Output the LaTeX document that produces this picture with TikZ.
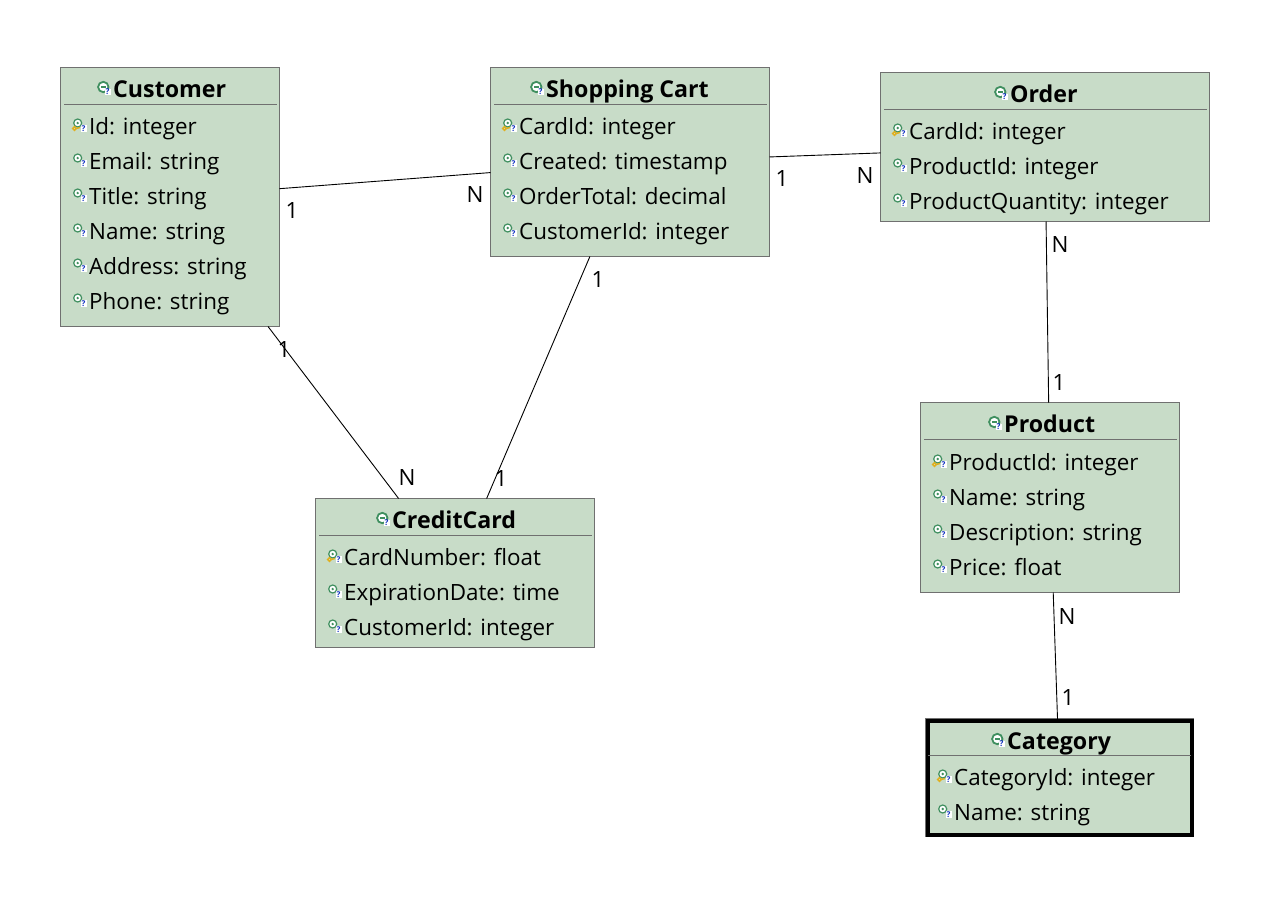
\documentclass[tikz,border=0pt]{standalone}
\usepackage{fontspec}
\setmainfont{Open Sans}
\definecolor{boxfill}{HTML}{C8DCC8}
\definecolor{boxedge}{HTML}{707070}
\definecolor{icong}{HTML}{3F8F5F}
\definecolor{iconb}{HTML}{1030C0}
\definecolor{iconk}{HTML}{E0B020}
\newcommand{\bodyfont}{\fontsize{22.4}{24}\selectfont}
\newcommand{\titlefont}{\fontsize{23.2}{24}\selectfont\bfseries}
\tikzset{
  x=1pt,y=-1pt,
  entity/.style={draw=boxedge,line width=1pt,fill=boxfill,rectangle,inner sep=0pt,outer sep=0pt},
  selected/.style={draw=black,line width=4pt,fill=boxfill,rectangle,inner sep=0pt,outer sep=0pt},
  sepline/.style={draw=boxedge,line width=0.8pt},
  link/.style={draw=black,line width=0.9pt},
  fieldtext/.style={anchor=base west,inner sep=0pt,font=\bodyfont,text=black},
  titletext/.style={anchor=base west,inner sep=0pt,font=\titlefont,text=black},
  cardinal/.style={inner sep=0pt,font=\bodyfont,text=black},
  qmark/.style={inner sep=0pt,font=\fontsize{8}{8}\selectfont\bfseries,text=iconb},
}
% icon helpers: #1,#2 = left edge and baseline of the text that follows
\newcommand{\qbox}[2]{%
  \fill[white] (#1-3,#2-3.2) rectangle (#1+3,#2+3.2);
  \node[qmark] at (#1,#2) {?};}
\newcommand{\titleicon}[2]{%
  \draw[icong,line width=1.8pt,fill=white] (#1-9.7,#2-10) circle (5.2);
  \fill[icong] (#1-12,#2-11) rectangle (#1-7,#2-9);
  \qbox{#1-5.5}{#2-5}}
\newcommand{\fieldicon}[2]{%
  \draw[icong,line width=1.2pt,fill=white] (#1-11.3,#2-11) circle (4);
  \fill[icong] (#1-11.3,#2-11) circle (1.3);
  \qbox{#1-5.5}{#2-5.5}}
\newcommand{\keyicon}[2]{%
  \fieldicon{#1}{#2}
  \draw[iconk,line width=1.4pt] (#1-14.5,#2-5.5) circle (1.8);
  \draw[iconk,line width=1.4pt] (#1-12.8,#2-5.5) -- (#1-9,#2-6.5);}
% \fields{prefix}{text left}{first baseline}{list}; first row has the key
\newcommand{\fields}[4]{%
  \foreach \t [count=\i from 0] in {#4} {
    \pgfmathsetmacro{\yy}{#3+35*\i}
    \ifnum\i=0 \keyicon{#2}{\yy}\else \fieldicon{#2}{\yy}\fi
    \node[fieldtext] (#1-f\i) at (#2,\yy) {\t};
  }}
\begin{document}
\begin{tikzpicture}
\useasboundingbox (0,0) rectangle (1266,918);
\fill[white] (0,0) rectangle (1266,918);
% boxes
\node[entity,minimum width=219pt,minimum height=259pt] (customer) at (170,197) {};
\node[entity,minimum width=279pt,minimum height=189pt] (cart) at (630,162) {};
\node[entity,minimum width=329pt,minimum height=149pt] (order) at (1045,147) {};
\node[entity,minimum width=259pt,minimum height=190pt] (product) at (1050,497.5) {};
\node[entity,minimum width=279pt,minimum height=149pt] (card) at (455,573) {};
\fill[boxedge] (925,718) rectangle (1194,837);
\node[selected,minimum width=264pt,minimum height=114pt] (category) at (1059.5,777.5) {};
% connectors
\draw[link] (customer) -- (cart);
\draw[link] (cart) -- (order);
\draw[link] (customer) -- (card);
\draw[link] (cart) -- (card);
\draw[link] (order) -- (product);
\draw[link] (product) -- (category);
% separators
\draw[sepline] (64,104.5) -- (277,104.5);
\draw[sepline] (494,104.5) -- (767,104.5);
\draw[sepline] (884,109.5) -- (1207,109.5);
\draw[sepline] (924,439.5) -- (1177,439.5);
\draw[sepline] (319,535.5) -- (592,535.5);
\draw[sepline] (928,755.5) -- (1191,755.5);
% titles
\titleicon{113}{97}\node[titletext] (customer-t) at (113,97) {Customer};
\titleicon{546}{97}\node[titletext] (cart-t) at (546,97) {Shopping Cart};
\titleicon{1010}{102}\node[titletext] (order-t) at (1010,102) {Order};
\titleicon{1004}{432}\node[titletext] (product-t) at (1004,432) {Product};
\titleicon{392}{528}\node[titletext] (card-t) at (392,528) {CreditCard};
\titleicon{1007}{749}\node[titletext] (category-t) at (1007,749) {Category};
% fields
\fields{customer}{89}{134}{Id: integer,Email: string,Title: string,Name: string,Address: string,Phone: string}
\fields{cart}{519}{134}{CardId: integer,Created: timestamp,OrderTotal: decimal,CustomerId: integer}
\fields{order}{909}{139}{CardId: integer,ProductId: integer,ProductQuantity: integer}
\fields{product}{949}{470}{ProductId: integer,Name: string,Description: string,Price: float}
\fields{card}{344}{565}{CardNumber: float,ExpirationDate: time,CustomerId: integer}
\fields{category}{954}{785}{CategoryId: integer,Name: string}
% cardinalities
\node[cardinal] (l1) at (292,211) {1};
\node[cardinal] (l2) at (475,195) {N};
\node[cardinal] (l3) at (782,179) {1};
\node[cardinal] (l4) at (865,176) {N};
\node[cardinal] (l5) at (1060,245) {N};
\node[cardinal] (l6) at (1059,382) {1};
\node[cardinal] (l7) at (1067,616) {N};
\node[cardinal] (l8) at (1068,697) {1};
\node[cardinal] (l9) at (598,280) {1};
\node[cardinal] (l10) at (501,478) {1};
\node[cardinal] (l11) at (284,350) {1};
\node[cardinal] (l12) at (407,477) {N};
\end{tikzpicture}
\end{document}
